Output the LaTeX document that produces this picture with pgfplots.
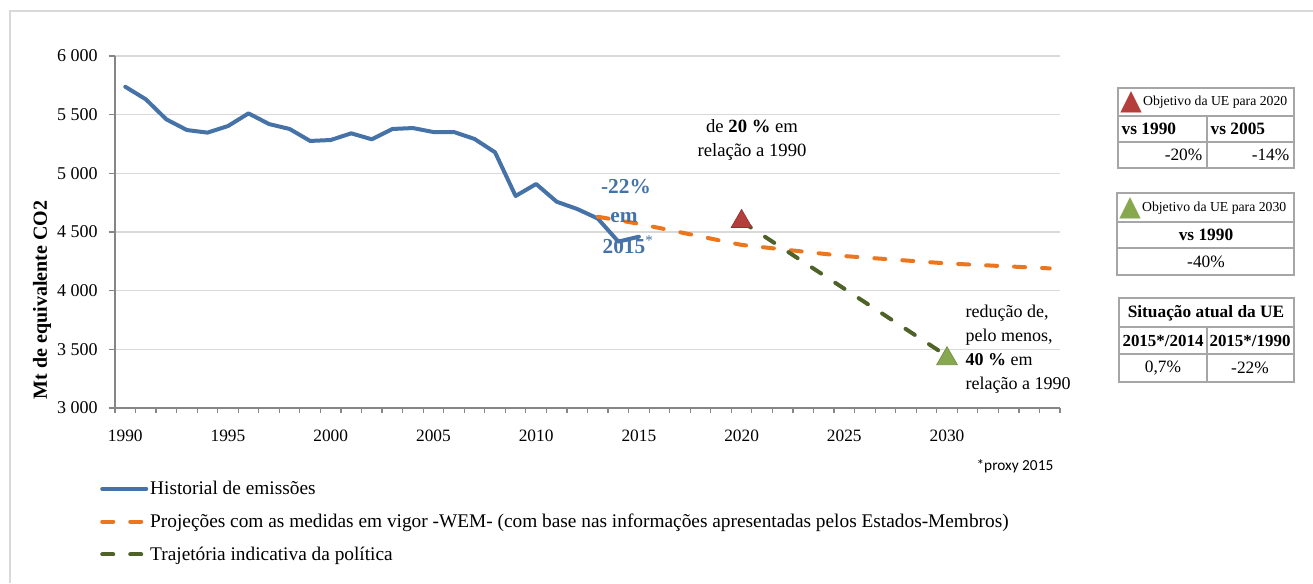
\documentclass[border=0pt]{standalone}
\usepackage{pgfplots}
\pgfplotsset{compat=1.18}
\usepackage{fontspec}
\setmainfont{Liberation Serif}
\newfontfamily\calibri{Carlito}
\newfontfamily\dejavu{DejaVu Sans}
\definecolor{blueline}{RGB}{69,114,167}
\definecolor{orangeline}{RGB}{236,118,30}
\definecolor{greenline}{RGB}{79,98,40}
\definecolor{redtri}{RGB}{180,62,60}
\definecolor{greentri}{RGB}{135,168,78}
\definecolor{axisgray}{RGB}{134,134,134}
\definecolor{gridgray}{RGB}{217,217,217}
\definecolor{boxgray}{RGB}{166,166,166}
\begin{document}
\begin{tikzpicture}[x=0.75pt,y=0.75pt]
\useasboundingbox (0,0) rectangle (1313,583);
\draw[gridgray, line width=1pt] (10,0) -- (10,572) -- (1313,572);
\begin{axis}[
  at={(86.25pt,131.25pt)}, anchor=south west,
  scale only axis, width=708.75pt, height=264pt,
  xmin=1989.5, xmax=2035.5, ymin=3000, ymax=6000,
  axis x line*=bottom, axis y line*=left,
  axis line style={axisgray, line width=0.9pt, -},
  xtick={1990,1995,...,2030},
  xticklabels={1990,1995,2000,2005,2010,2015,2020,2025,2030},
  major x tick style={draw=none},
  minor xtick={1989.5,1990.5,...,2035.5},
  minor tick length=3.75pt, major tick length=4.5pt, tick align=outside,
  ytick={3000,3500,...,6000},
  yticklabels={3 000,3 500,4 000,4 500,5 000,5 500,6 000},
  ymajorgrids, major grid style={gridgray, line width=0.9pt},
  tick style={axisgray, line width=0.9pt},
  /pgf/number format/assume math mode=true,
  ticklabel style={font=\fontsize{13}{15}\selectfont},
  xticklabel style={yshift=-8.5pt},
  yticklabel style={xshift=-5pt, font=\fontsize{13.5}{15}\selectfont},
  ylabel={\textbf{Mt de equivalente CO2}},
  every axis y label/.style={at={(axis description cs:-0.0772,0.307)}, rotate=90, anchor=center, font=\fontsize{15}{17}\selectfont},
  legend style={at={(axis description cs:-0.0159,-0.201)}, anchor=north west, draw=none, fill=none,
    font=\fontsize{14.5}{17}\selectfont, row sep=10pt, inner sep=0pt, nodes={inner sep=1.5pt}},
  legend cell align=left,
  legend image code/.code={\draw[#1] (0pt,0pt) -- (33pt,0pt);},
  clip=false,
]
\addplot[blueline, line width=3pt, line join=round, line cap=round] coordinates {
(1990,5738) (1991,5631) (1992,5460) (1993,5369) (1994,5347) (1995,5403)
(1996,5511) (1997,5420) (1998,5378) (1999,5276) (2000,5284) (2001,5341)
(2002,5290) (2003,5378) (2004,5386) (2005,5352) (2006,5352) (2007,5293)
(2008,5179) (2009,4807) (2010,4909) (2011,4758) (2012,4696) (2013,4615)
(2014,4418) (2015,4460)};
\addlegendentry{Historial de emissões}
\addplot[orangeline, line width=3pt, line cap=round, dash pattern=on 8.25pt off 12.75pt] coordinates {
(2013,4630) (2015,4570) (2020,4390) (2025,4295) (2030,4232) (2035,4190)};
\addlegendentry{Projeções com as medidas em vigor -WEM- (com base nas informações apresentadas pelos Estados-Membros)}
\addplot[only marks, mark=triangle*, mark size=9pt, mark options={fill=redtri, draw=redtri!80!black, line width=0.5pt}, forget plot] coordinates {(2020,4590)};
\addplot[only marks, mark=triangle*, mark size=9pt, mark options={fill=greentri, draw=greentri!85!black, line width=0.5pt}, forget plot] coordinates {(2030,3420)};
\addplot[greenline, line width=3pt, line cap=round, dash pattern=on 8.25pt off 12.75pt] coordinates {
(2020,4590) (2030,3443)};
\addlegendentry{Trajetória indicativa da política}
\end{axis}
% annotations
\node[text=blueline, font=\bfseries\fontsize{16}{18}\selectfont] at (626,396) {-22\%};
\node[text=blueline, font=\bfseries\fontsize{16}{18}\selectfont] at (624,365) {em};
\node[text=blueline, font=\bfseries\fontsize{16}{18}\selectfont] at (628,338) {2015\textsuperscript{\mdseries *}};
\node[font=\fontsize{14}{18}\selectfont, align=center] at (752,443) {de \textbf{20 \%} em\\relação a 1990};
\node[font=\fontsize{13.5}{18}\selectfont, align=left, anchor=west] at (961,234) {redução de,\\pelo menos,\\\textbf{40 \%} em\\relação a 1990};
\node[font=\calibri\fontsize{11.5}{13}\selectfont, anchor=east] at (1058,117) {*proxy 2015};
% table 1
\draw[boxgray, line width=1pt] (1118,495) rectangle (1294,415);
\draw[boxgray, line width=1pt] (1118,467) -- (1294,467) (1118,441) -- (1294,441) (1207,467) -- (1207,415);
\node[anchor=west, inner sep=0pt] at (1120,481) {\raisebox{-3pt}{\dejavu\fontsize{21}{21}\selectfont\textcolor{redtri}{▲}}\kern1pt{\fontsize{10.3}{12}\selectfont Objetivo da UE para 2020}};
\node[anchor=west, font=\bfseries\fontsize{13}{15}\selectfont] at (1117,454) {vs 1990};
\node[anchor=west, font=\bfseries\fontsize{13}{15}\selectfont] at (1206,454) {vs 2005};
\node[anchor=east, font=\fontsize{13}{15}\selectfont] at (1207,428) {-20\%};
\node[anchor=east, font=\fontsize{13}{15}\selectfont] at (1294,428) {-14\%};
% table 2
\draw[boxgray, line width=1pt] (1117,390) rectangle (1294,308);
\draw[boxgray, line width=1pt] (1117,361) -- (1294,361) (1117,335) -- (1294,335);
\node[anchor=west, inner sep=0pt] at (1119,375) {\raisebox{-3pt}{\dejavu\fontsize{21}{21}\selectfont\textcolor{greentri}{▲}}\kern1pt{\fontsize{10.3}{12}\selectfont Objetivo da UE para 2030}};
\node[font=\bfseries\fontsize{13}{15}\selectfont] at (1206,348) {vs 1990};
\node[font=\fontsize{13}{15}\selectfont] at (1206,321) {-40\%};
% table 3
\draw[boxgray, line width=1pt] (1119,285) rectangle (1294,201);
\draw[boxgray, line width=1pt] (1119,256) -- (1294,256) (1119,229) -- (1294,229) (1207,256) -- (1207,201);
\node[font=\bfseries\fontsize{13}{15}\selectfont] at (1206,270) {Situação atual da UE};
\node[font=\bfseries\fontsize{12.7}{15}\selectfont] at (1163,242) {2015*/2014};
\node[font=\bfseries\fontsize{12.7}{15}\selectfont] at (1250,242) {2015*/1990};
\node[font=\fontsize{13}{15}\selectfont] at (1163,215) {0,7\%};
\node[font=\fontsize{13}{15}\selectfont] at (1250,215) {-22\%};
\end{tikzpicture}
\end{document}
